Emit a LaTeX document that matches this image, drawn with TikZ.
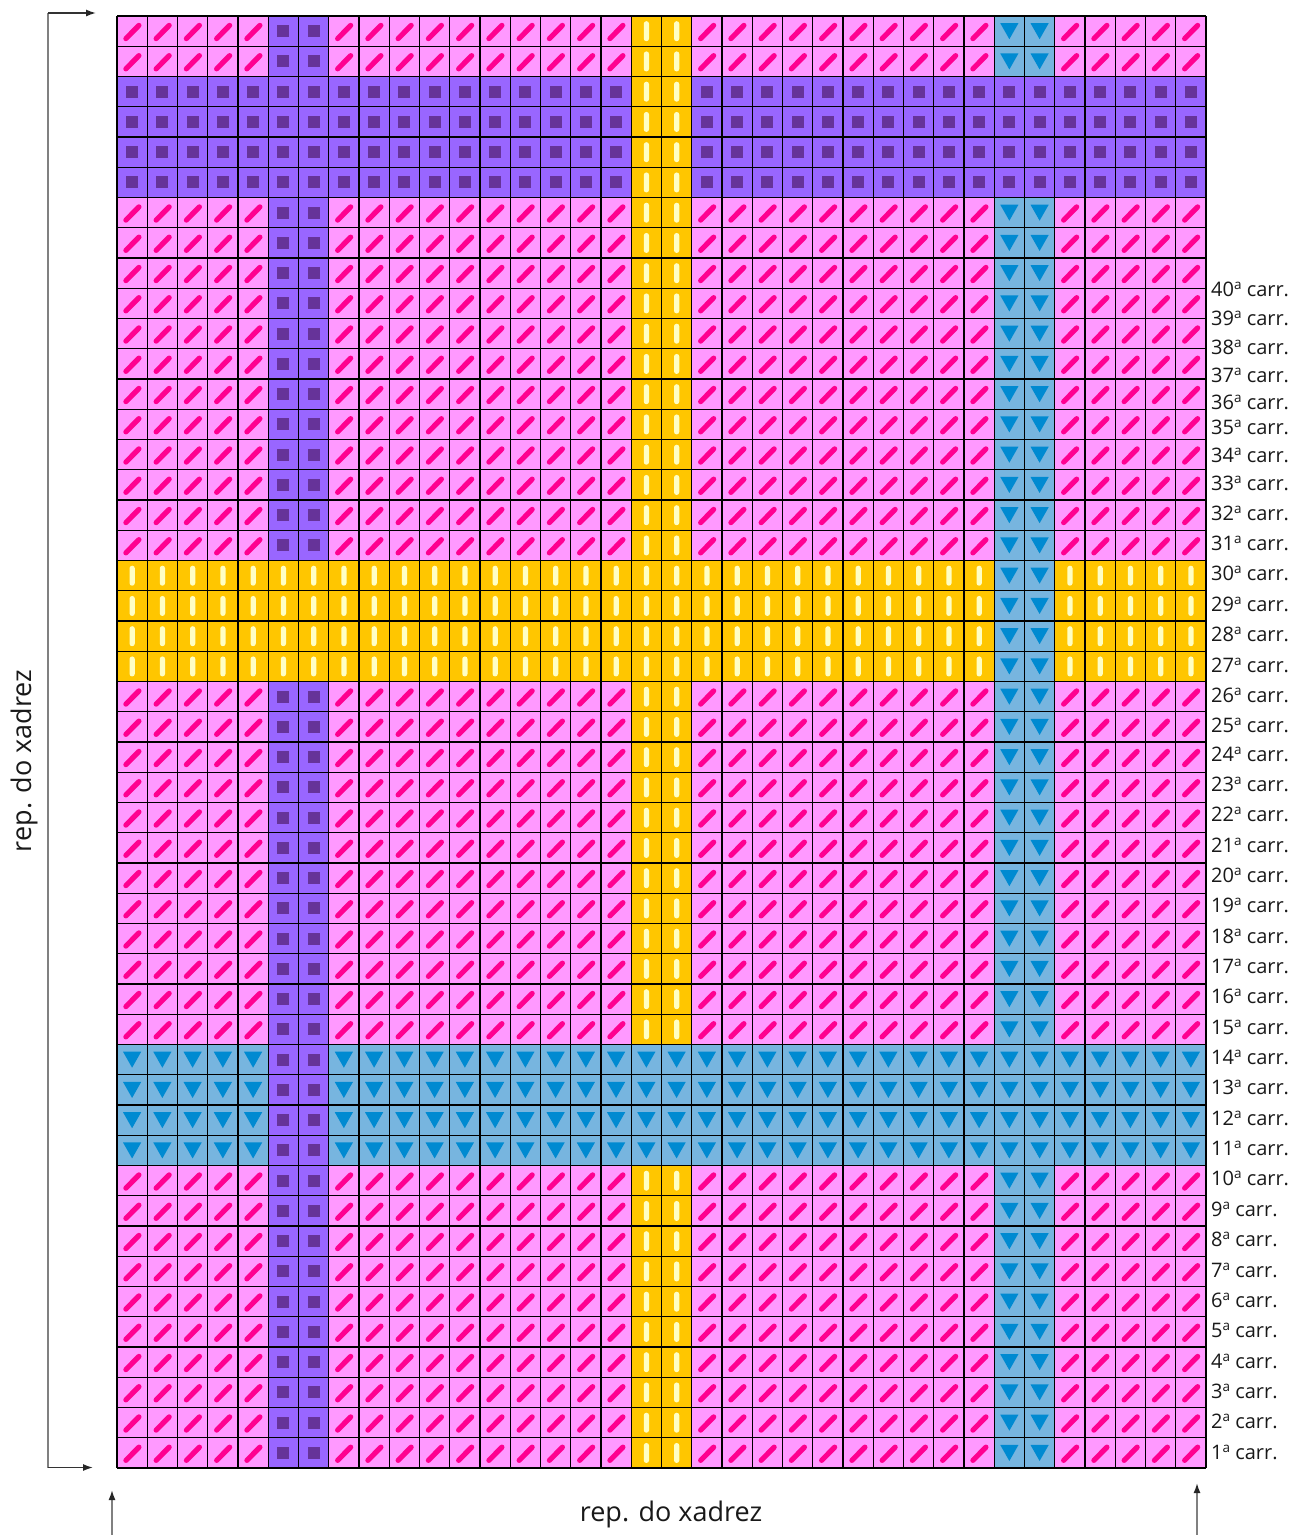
\documentclass[tikz,border=0pt]{standalone}
\usepackage{fontspec}
\setmainfont{Open Sans}
\usetikzlibrary{arrows.meta}
\definecolor{pinkbg}{HTML}{FF99FF}
\definecolor{slashcol}{HTML}{FF0090}
\definecolor{purplebg}{HTML}{9966FF}
\definecolor{purplesq}{HTML}{663399}
\definecolor{yellowbg}{HTML}{FFC600}
\definecolor{barcol}{HTML}{FFFFC4}
\definecolor{bluebg}{HTML}{77B5DF}
\definecolor{tricol}{HTML}{008AD1}
\definecolor{axisgray}{HTML}{808080}
\newcount\myhs \newcount\myvs \newcount\myct
\newcommand\celltype[2]{%
  \myhs=0 \myvs=0
  \ifnum#1>1 \ifnum#1<6 \myhs=1 \fi\fi
  \ifnum#1>17 \ifnum#1<22 \myhs=2 \fi\fi
  \ifnum#1>33 \ifnum#1<38 \myhs=3 \fi\fi
  \ifnum#2>4 \ifnum#2<7 \myvs=1 \fi\fi
  \ifnum#2>16 \ifnum#2<19 \myvs=2 \fi\fi
  \ifnum#2>28 \ifnum#2<31 \myvs=3 \fi\fi
  \ifnum\myhs=0 \myct=\myvs
  \else\ifnum\myvs=0 \myct=\myhs
  \else\ifnum\myhs=\myvs \myct=\myhs
  \else
    \myct=\numexpr\myhs+\myvs\relax
    \ifcase\myct\or\or\or \myct=2 \or \myct=1 \or \myct=3 \fi
  \fi\fi\fi}
\newcommand\ordsup{\raisebox{6.5pt}{\fontsize{13.5}{13.5}\selectfont a}}
\tikzset{
  gridline/.style={draw=black, line width=1.4pt},
  rowlabel/.style={anchor=west, inner sep=0pt, font=\fontsize{20}{24}\selectfont, text=black!90},
  axislabel/.style={inner sep=0pt, font=\fontsize{27}{32}\selectfont, text=black!90},
  axisline/.style={draw=axisgray, line width=1.6pt},
  arrowline/.style={draw=black!80, line width=1.4pt, -{Latex[length=10pt,width=7pt,color=black!85]}},
  uparrow/.style={draw=axisgray, line width=1.6pt, -{Latex[length=10pt,width=7pt,color=black!85]}},
  pinkcell/.pic={\fill[pinkbg] (0,0) rectangle (30.25,30.25);
    \draw[slashcol, line width=5.2pt, line cap=round] (8.9,22.6) -- (21.9,9.4);},
  purplecell/.pic={\fill[purplebg] (0,0) rectangle (30.25,30.25);
    \fill[purplesq] (9.0,9.0) rectangle (21.2,21.2);},
  yellowcell/.pic={\fill[yellowbg] (0,0) rectangle (30.25,30.25);
    \fill[barcol, rounded corners=2.6pt] (12.5,5.2) rectangle (17.8,25.2);},
  bluecell/.pic={\fill[bluebg] (0,0) rectangle (30.25,30.25);
    \fill[tricol] (6.0,7.2) -- (24.2,7.2) -- (15.1,23.2) -- cycle;}
}
\begin{document}
\begin{tikzpicture}[x={(1pt,0pt)}, y={(0pt,-1pt)}]
\useasboundingbox (0,0) rectangle (1293,1535);
\fill[white] (0,0) rectangle (1293,1535);
% cells
\foreach \r in {0,...,47}{%
  \foreach \c in {0,...,35}{%
    \celltype{\r}{\c}%
    \ifcase\myct
      \pic at ({117+\c*30.25},{16+\r*30.25}) {pinkcell};
    \or
      \pic at ({117+\c*30.25},{16+\r*30.25}) {purplecell};
    \or
      \pic at ({117+\c*30.25},{16+\r*30.25}) {yellowcell};
    \or
      \pic at ({117+\c*30.25},{16+\r*30.25}) {bluecell};
    \fi
  }}
% grid
\foreach \i in {0,...,36}{\draw[gridline] ({117+\i*30.25},16) -- ({117+\i*30.25},1468);}
\foreach \j in {0,...,48}{\draw[gridline] (117,{16+\j*30.25}) -- (1206,{16+\j*30.25});}
% row labels
\foreach \n/\yy in {1/1452,2/1421,3/1391,4/1361,5/1330,6/1300,7/1270,8/1239,9/1209,10/1178,
  11/1148,12/1118,13/1087,14/1057,15/1027,16/996,17/966,18/936,19/905,20/875,
  21/845,22/814,23/784,24/754,25/725,26/695,27/665,28/634,29/604,30/573,
  31/543,32/513,33/483,34/455,35/427,36/402,37/375,38/347,39/318,40/289}{%
  \node[rowlabel] (carr\n) at (1211,\yy) {\n\ordsup\ carr.};}
% axes
\coordinate (vtop) at (48,13);
\coordinate (vbot) at (48,1467.5);
\coordinate (toptip) at (96,13);
\coordinate (bottip) at (93,1467.5);
\draw[axisline] (vtop) -- (vbot);
\draw[arrowline] (vtop) -- (toptip);
\draw[arrowline] (vbot) -- (bottip);
\coordinate (lfoot) at (112,1535);
\coordinate (lhead) at (112,1490);
\coordinate (rfoot) at (1197,1535);
\coordinate (rhead) at (1197,1483);
\draw[uparrow] (lfoot) -- (lhead);
\draw[uparrow] (rfoot) -- (rhead);
\node[axislabel, rotate=90] (vlabel) at (24,761) {rep. do xadrez};
\node[axislabel] (hlabel) at (671,1514) {rep. do xadrez};
\end{tikzpicture}
\end{document}
